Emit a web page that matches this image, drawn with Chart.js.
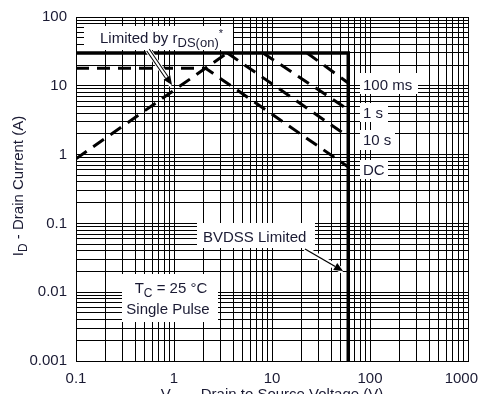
<!DOCTYPE html>
<html>
<head>
<meta charset="utf-8">
<script src="https://cdn.jsdelivr.net/npm/chart.js@4.4.0/dist/chart.umd.min.js"></script>
<style>
  html, body { margin: 0; padding: 0; background: #fff; }
  canvas { display: block; }
</style>
</head>
<body>
<canvas id="soaChart" width="483" height="394"></canvas>
<script>
// decade ticks
const xTickValues = [0.1, 1, 10, 100, 1000];
const xTickLabels = ['0.1', '1', '10', '100', '1000'];
const yTickValues = [0.001, 0.01, 0.1, 1, 10, 100];
const yTickLabels = ['0.001', '0.01', '0.1', '1', '10', '100'];

// solid boundary: current limit + BVDSS
const limitVds = [0.1, 60, 60];
const limitId = [30, 30, 0.001];
// rDS(on) limit
const rdsVds = [0.1, 3.5];
const rdsId = [0.87, 30];
// pulse / DC curves
const ms100Vds = [22.8, 60];
const ms100Id = [30, 11];
const s1Vds = [8.1, 60];
const s1Id = [30, 4.5];
const s10Vds = [3.5, 60];
const s10Id = [30, 1.82];
const dcVds = [0.1, 2.1, 60];
const dcId = [18, 18, 0.66];

const FONT = '"Liberation Sans", Arial, Helvetica, sans-serif';
const TEXT = '#1a1a33';

// 1..9 per decade for the log grid
function logGrid(lo, hi) {
    const out = [];
    for (let e = Math.round(Math.log10(lo)); e < Math.round(Math.log10(hi)); e++) {
        for (let m = 1; m < 10; m++) out.push(m * Math.pow(10, e));
    }
    out.push(hi);
    return out;
}

function decadeLabel(v, values, labels) {
    for (let i = 0; i < values.length; i++) {
        if (Math.abs(Math.log10(v) - Math.log10(values[i])) < 1e-6) return labels[i];
    }
    return '';
}

function series(xs, ys, dashed, width) {
    return {
        data: xs.map((x, i) => ({ x: x, y: ys[i] })),
        borderColor: '#000',
        borderWidth: width,
        borderDash: dashed ? [13, 8] : [],
        borderCapStyle: 'butt',
        pointRadius: 0,
        fill: false,
        tension: 0
    };
}

// text with sub/superscripts: parts = [text, size, dy]
function rich(ctx, parts, x, y, align) {
    let total = 0;
    parts.forEach(p => { ctx.font = p[1] + 'px ' + FONT; total += ctx.measureText(p[0]).width; });
    let cx = align === 'center' ? x - total / 2 : x;
    ctx.textAlign = 'left';
    ctx.textBaseline = 'alphabetic';
    parts.forEach(p => {
        ctx.font = p[1] + 'px ' + FONT;
        ctx.fillText(p[0], cx, y + p[2]);
        cx += ctx.measureText(p[0]).width;
    });
}

function whiteBox(ctx, x0, y0, x1, y1) {
    ctx.fillStyle = '#fff';
    ctx.fillRect(x0, y0, x1 - x0, y1 - y0);
}

function arrow(ctx, x0, y0, x1, y1, hollow) {
    const a = Math.atan2(y1 - y0, x1 - x0);
    const hl = 9, hw = 4;
    const bx = x1 - hl * Math.cos(a), by = y1 - hl * Math.sin(a);
    ctx.lineCap = 'butt';
    ctx.strokeStyle = '#fff';
    ctx.lineWidth = 6;
    ctx.beginPath(); ctx.moveTo(x0, y0); ctx.lineTo(x1, y1); ctx.stroke();
    ctx.strokeStyle = '#000';
    if (hollow) {
        ctx.lineWidth = 4;
        ctx.beginPath(); ctx.moveTo(x0, y0); ctx.lineTo(bx, by); ctx.stroke();
        ctx.strokeStyle = '#fff';
        ctx.lineWidth = 2;
        ctx.beginPath(); ctx.moveTo(x0 - Math.cos(a), y0 - Math.sin(a)); ctx.lineTo(bx, by); ctx.stroke();
    } else {
        ctx.lineWidth = 1.3;
        ctx.beginPath(); ctx.moveTo(x0, y0); ctx.lineTo(bx, by); ctx.stroke();
    }
    ctx.fillStyle = '#000';
    ctx.beginPath();
    ctx.moveTo(x1, y1);
    ctx.lineTo(bx + hw * Math.sin(a), by - hw * Math.cos(a));
    ctx.lineTo(bx - hw * Math.sin(a), by + hw * Math.cos(a));
    ctx.closePath();
    ctx.fill();
}

const annotations = {
    id: 'annotations',
    beforeDraw(chart) {
        const ctx = chart.ctx;
        ctx.save();
        ctx.fillStyle = '#fff';
        ctx.fillRect(0, 0, chart.width, chart.height);
        ctx.restore();
    },
    afterDatasetsDraw(chart) {
        const ctx = chart.ctx;
        const xs = chart.scales.x;
        const area = chart.chartArea;
        ctx.save();

        // label boxes
        whiteBox(ctx, 84, 26, 233, 50);
        whiteBox(ctx, 360, 73, 418, 94);
        whiteBox(ctx, 360, 103, 388, 122);
        whiteBox(ctx, 360, 130, 395, 150);
        whiteBox(ctx, 360, 160, 388, 179);
        whiteBox(ctx, 197, 223, 315, 248);
        whiteBox(ctx, 122, 274, 218, 322);

        arrow(ctx, 148, 50, 172, 85, true);
        arrow(ctx, 305, 249, 343, 271, false);

        ctx.fillStyle = TEXT;
        rich(ctx, [['Limited by r', 15, 0], ['DS(on)', 13, 4], ['*', 11, -6]], 100, 43);
        rich(ctx, [['100 ms', 15, 0]], 363, 90);
        rich(ctx, [['1 s', 15, 0]], 363, 118);
        rich(ctx, [['10 s', 15, 0]], 363, 145);
        rich(ctx, [['DC', 15, 0]], 363, 175);
        rich(ctx, [['BVDSS Limited', 15, 0]], 203, 242);
        rich(ctx, [['T', 15, 0], ['C', 12, 4], [' = 25 \u00B0C', 15, 0]], 171, 293, 'center');
        rich(ctx, [['Single Pulse', 15, 0]], 168, 314, 'center');

        // x tick labels, kept inside the canvas
        ctx.font = '15px ' + FONT;
        ctx.textAlign = 'center';
        ctx.textBaseline = 'alphabetic';
        xTickValues.forEach((v, i) => {
            const w = ctx.measureText(xTickLabels[i]).width;
            const px = Math.min(xs.getPixelForValue(v), chart.width - 5 - w / 2);
            ctx.fillText(xTickLabels[i], px, area.bottom + 22);
        });

        // axis titles
        rich(ctx, [['V', 15, 0], ['DS', 12, 4], [' - Drain to Source Voltage (V)', 15, 0]],
            (area.left + area.right) / 2, 399, 'center');
        ctx.translate(23, (area.top + area.bottom) / 2 - 3);
        ctx.rotate(-Math.PI / 2);
        rich(ctx, [['I', 15, 0], ['D', 12, 4], [' - Drain Current (A)', 15, 0]], 0, 0, 'center');
        ctx.restore();
    }
};

const xGrid = logGrid(0.1, 1000);
const yGrid = logGrid(0.001, 100);

const ctx = document.getElementById('soaChart').getContext('2d');
const soaChart = new Chart(ctx, {
    type: 'line',
    data: {
        datasets: [
            series(limitVds, limitId, false, 3.5),
            series(rdsVds, rdsId, true, 3),
            series(ms100Vds, ms100Id, true, 3),
            series(s1Vds, s1Id, true, 3),
            series(s10Vds, s10Id, true, 3),
            series(dcVds, dcId, true, 3)
        ]
    },
    options: {
        responsive: false,
        animation: false,
        devicePixelRatio: 1,
        layout: { padding: { top: 17, right: 15, left: 0, bottom: 0 } },
        plugins: { legend: { display: false }, tooltip: { enabled: false } },
        scales: {
            x: {
                type: 'logarithmic',
                min: 0.1,
                max: 1000,
                grid: { color: '#000', lineWidth: 1, drawTicks: false },
                border: { color: '#000', width: 1 },
                ticks: { display: false, autoSkip: false },
                afterBuildTicks: s => { s.ticks = xGrid.map(v => ({ value: v })); },
                afterFit: s => { s.height = 33; s.paddingLeft = 0; s.paddingRight = 0; }
            },
            y: {
                type: 'logarithmic',
                min: 0.001,
                max: 100,
                grid: { color: '#000', lineWidth: 1, drawTicks: false },
                border: { color: '#000', width: 1 },
                ticks: {
                    autoSkip: false,
                    padding: 9,
                    color: TEXT,
                    font: { family: FONT, size: 15 },
                    callback: v => decadeLabel(v, yTickValues, yTickLabels)
                },
                afterBuildTicks: s => { s.ticks = yGrid.map(v => ({ value: v })); },
                afterFit: s => { s.width = 76; s.paddingTop = 0; s.paddingBottom = 0; }
            }
        }
    },
    plugins: [annotations]
});
</script>
</body>
</html>
